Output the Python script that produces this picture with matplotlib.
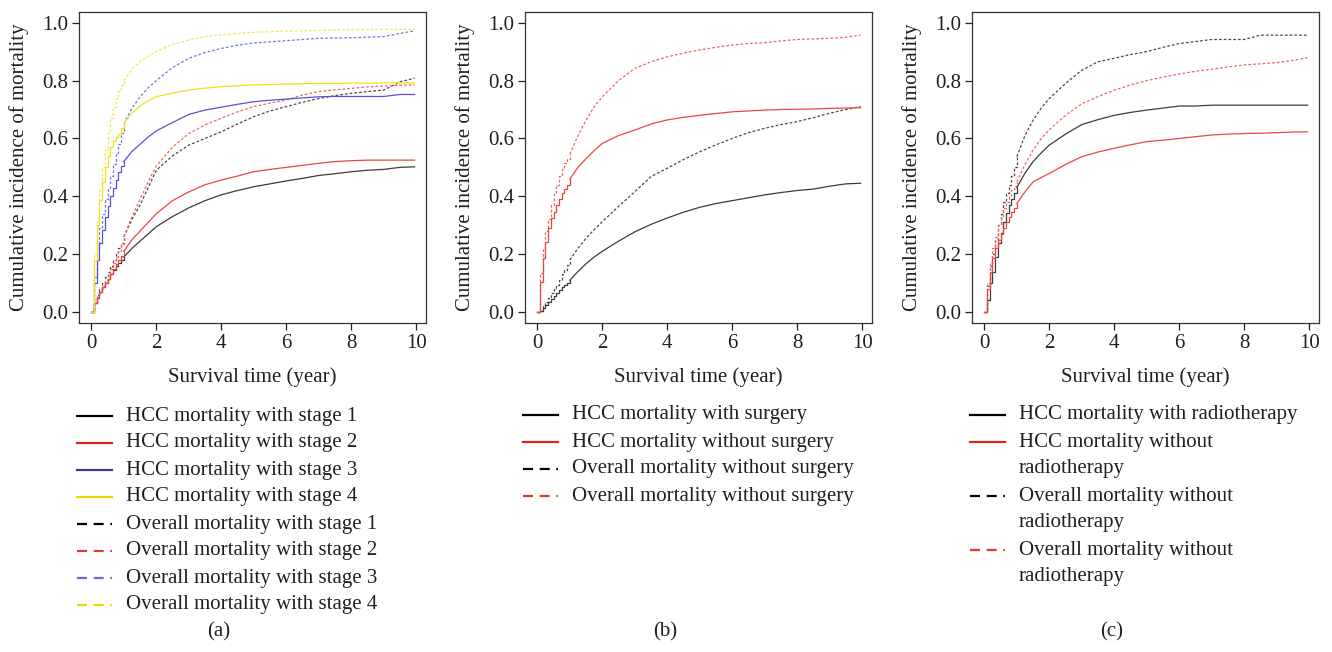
import matplotlib
matplotlib.use("Agg")
import matplotlib.pyplot as plt
from matplotlib.lines import Line2D

plt.rcParams["font.family"] = ["Liberation Serif", "DejaVu Serif"]
plt.rcParams["font.size"] = 15
TEXT = "#231f20"

# ---------------------------------------------------------
# DATA  (cumulative incidence read at each follow-up time, years)
# ---------------------------------------------------------

times = [0, 0.08, 0.17, 0.25, 0.33, 0.42, 0.5, 0.58, 0.67, 0.75, 0.83, 0.92,
         1.0, 1.25, 1.5, 1.75, 2.0, 2.5, 3.0, 3.5, 4.0, 4.5, 5.0, 5.5, 6.0,
         6.5, 7.0, 7.5, 8.0, 8.5, 9.0, 9.5, 9.95]

# (a) by stage
hcc_stage1 = [0, .03, .05, .07, .085, .10, .115, .13, .145, .16, .17, .18,
              .19, .22, .245, .27, .295, .33, .36, .385, .405, .42, .433, .443, .453,
              .462, .472, .478, .485, .49, .493, .5, .502]
hcc_stage2 = [0, .03, .05, .07, .085, .10, .115, .13, .15, .165, .18, .195,
              .21, .25, .28, .31, .34, .385, .415, .44, .456, .47, .485, .493, .5,
              .507, .514, .52, .523, .525, .525, .525, .525]
hcc_stage3 = [0, .1, .18, .24, .285, .33, .365, .4, .43, .455, .485, .505,
              .52, .555, .58, .605, .626, .655, .683, .698, .708, .718, .727, .732, .736,
              .74, .744, .745, .745, .745, .745, .752, .752]
hcc_stage4 = [0, .18, .3, .387, .45, .5, .54, .57, .59, .605, .617, .635,
              .652, .688, .712, .73, .744, .757, .767, .774, .779, .782, .785, .786, .788,
              .789, .79, .79, .791, .791, .792, .792, .792]
all_stage1 = [0, .03, .06, .08, .10, .12, .14, .16, .18, .2, .22, .24,
              .26, .32, .37, .43, .49, .54, .577, .6, .623, .65, .675, .695, .71,
              .725, .738, .748, .756, .762, .767, .796, .808]
all_stage2 = [0, .03, .05, .07, .09, .11, .13, .15, .17, .19, .21, .235,
              .26, .33, .39, .45, .505, .57, .617, .647, .67, .692, .71, .722, .733,
              .75, .762, .768, .773, .778, .781, .784, .785]
all_stage3 = [0, .12, .22, .29, .34, .39, .43, .47, .51, .55, .58, .62,
              .65, .705, .744, .775, .8, .845, .877, .897, .911, .922, .93, .934, .938,
              .942, .946, .947, .948, .95, .952, .963, .972]
all_stage4 = [0, .2, .32, .42, .5, .56, .62, .67, .71, .74, .765, .785,
              .8, .84, .865, .885, .9, .925, .94, .952, .958, .963, .967, .969, .971,
              .972, .973, .975, .976, .977, .977, .977, .977]

# (b) by surgery
hcc_surgery = [0, .003, .015, .025, .035, .045, .055, .065, .075, .085, .093, .1,
               .11, .14, .167, .19, .21, .245, .277, .303, .325, .345, .362, .375, .385,
               .395, .405, .413, .42, .425, .435, .443, .445]
hcc_no_surgery = [0, .105, .185, .243, .29, .324, .345, .37, .39, .41, .425, .44,
                  .46, .5, .53, .558, .583, .61, .629, .65, .664, .673, .68, .686, .692,
                  .695, .698, .7, .701, .702, .704, .705, .706]
all_surgery = [0, .003, .02, .035, .05, .065, .08, .095, .11, .13, .145, .162,
               .18, .22, .255, .285, .312, .365, .416, .468, .497, .527, .554, .578, .6,
               .62, .635, .648, .658, .672, .687, .7, .71]
all_no_surgery = [0, .134, .22, .28, .32, .37, .41, .44, .47, .495, .515, .53,
                  .545, .61, .663, .71, .744, .8, .842, .865, .882, .895, .906, .915, .923,
                  .928, .931, .937, .942, .944, .946, .95, .957]

# (c) by radiotherapy
hcc_radio = [0, .04, .1, .14, .19, .237, .272, .312, .341, .37, .39, .41,
             .43, .48, .52, .55, .577, .615, .648, .665, .68, .69, .698, .705, .712,
             .712, .715, .715, .715, .715, .715, .715, .715]
hcc_no_radio = [0, .08, .14, .185, .22, .25, .27, .29, .31, .33, .345, .36,
                .375, .415, .45, .465, .479, .51, .537, .553, .566, .578, .589, .594, .6,
                .606, .612, .615, .617, .618, .62, .622, .623]
all_radio = [0, .09, .16, .2, .25, .3, .34, .38, .41, .44, .47, .5,
             .537, .61, .663, .705, .738, .79, .836, .865, .877, .89, .9, .915, .928,
             .935, .942, .942, .942, .957, .957, .957, .957]
all_no_radio = [0, .1, .17, .22, .26, .3, .33, .36, .38, .4, .42, .435,
                .45, .51, .56, .6, .63, .68, .72, .745, .767, .785, .8, .812, .823,
                .832, .839, .847, .854, .858, .862, .87, .879]

labels_a = ["HCC mortality with stage 1", "HCC mortality with stage 2",
            "HCC mortality with stage 3", "HCC mortality with stage 4",
            "Overall mortality with stage 1", "Overall mortality with stage 2",
            "Overall mortality with stage 3", "Overall mortality with stage 4"]
labels_b = ["HCC mortality with surgery", "HCC mortality without surgery",
            "Overall mortality without surgery", "Overall mortality without surgery"]
labels_c = ["HCC mortality with radiotherapy", "HCC mortality without\nradiotherapy",
            "Overall mortality without\nradiotherapy", "Overall mortality without\nradiotherapy"]

# ---------------------------------------------------------
# STYLES
# ---------------------------------------------------------

CURVE = {"k": "#3c3c3c", "r": "#ec4640", "b": "#5454d0", "y": "#f2e21c"}
CURVE_DOT = {"k": "#4a4a4a", "r": "#f06464", "b": "#7474e0", "y": "#f4e454"}
KEY = {"k": "#000000", "r": "#d42a1e", "b": "#3a3aa0", "y": "#f2d600"}
KEY_DOT = {"k": "#000000", "r": "#e03a2a", "b": "#6a6ac8", "y": "#f2d600"}
DOTS = (0, (2.2, 1.6))
FIRST_YEAR = 12   # index of t = 1.0: monthly steps before, fine steps after

W, H = 1332, 652


def setup_axes(ax):
    ax.set_xlim(-0.38, 10.3)
    ax.set_ylim(-0.038, 1.037)
    ax.set_xticks([0, 2, 4, 6, 8, 10])
    ax.set_yticks([0.0, 0.2, 0.4, 0.6, 0.8, 1.0])
    ax.set_yticklabels(["0.0", "0.2", "0.4", "0.6", "0.8", "1.0"])
    ax.tick_params(direction="out", length=5, width=0.9, pad=3,
                   colors=TEXT, labelsize=15)
    for sp in ax.spines.values():
        sp.set_linewidth(0.9)
        sp.set_color("#333333")
    ax.set_xlabel("Survival time (year)", color=TEXT, fontsize=15)
    ax.set_ylabel("Cumulative incidence of mortality", color=TEXT, fontsize=15)
    ax.xaxis.set_label_coords(0.5, -0.142)
    ax.yaxis.set_label_coords(-0.145, 0.5)


def draw_curve(ax, y, color, style):
    n = FIRST_YEAR
    ax.plot(times[:n + 1], y[:n + 1], drawstyle="steps-post",
            color=color, linewidth=0.9, linestyle=style)
    ax.plot(times[n:], y[n:], color=color, linewidth=0.9, linestyle=style)


def draw_key(fig, x_line, x_text, y_top, labels, colors, dashed):
    y = y_top
    for label, c, d in zip(labels, colors, dashed):
        col = KEY_DOT[c] if d else KEY[c]
        ls = (0, (4.5, 3)) if d else "-"
        fig.add_artist(Line2D([x_line / W, (x_line + 35) / W],
                              [1 - y / H, 1 - y / H],
                              transform=fig.transFigure, color=col,
                              linewidth=1.6, linestyle=ls))
        for line in label.split("\n"):
            fig.text(x_text / W, 1 - y / H, line, ha="left", va="center",
                     fontsize=15, color=TEXT)
            y += 27


fig = plt.figure(figsize=(13.32, 6.52), dpi=100)

panels = [
    ("(a)", 79,
     [hcc_stage1, hcc_stage2, hcc_stage3, hcc_stage4,
      all_stage1, all_stage2, all_stage3, all_stage4],
     ["k", "r", "b", "y", "k", "r", "b", "y"],
     [False] * 4 + [True] * 4, labels_a, 416),
    ("(b)", 525,
     [hcc_surgery, hcc_no_surgery, all_surgery, all_no_surgery],
     ["k", "r", "k", "r"], [False, False, True, True], labels_b, 415),
    ("(c)", 972,
     [hcc_radio, hcc_no_radio, all_radio, all_no_radio],
     ["k", "r", "k", "r"], [False, False, True, True], labels_c, 415),
]

for tag, left, series, colors, dashed, labels, key_y in panels:
    ax = fig.add_axes([left / W, 1 - 323 / H, 347 / W, 311 / H])
    # overall curves under the HCC curves
    order = [i for i in range(len(series)) if dashed[i]] + \
            [i for i in range(len(series)) if not dashed[i]]
    for i in order:
        if dashed[i]:
            draw_curve(ax, series[i], CURVE_DOT[colors[i]], DOTS)
        else:
            draw_curve(ax, series[i], CURVE[colors[i]], "-")
    setup_axes(ax)

    draw_key(fig, left - 2, left + 47, key_y, labels, colors, dashed)
    fig.text((left + 140) / W, 1 - 632 / H, tag, ha="center", va="center",
             fontsize=15, color=TEXT)

fig.savefig("out.png", dpi=100, facecolor="white")
